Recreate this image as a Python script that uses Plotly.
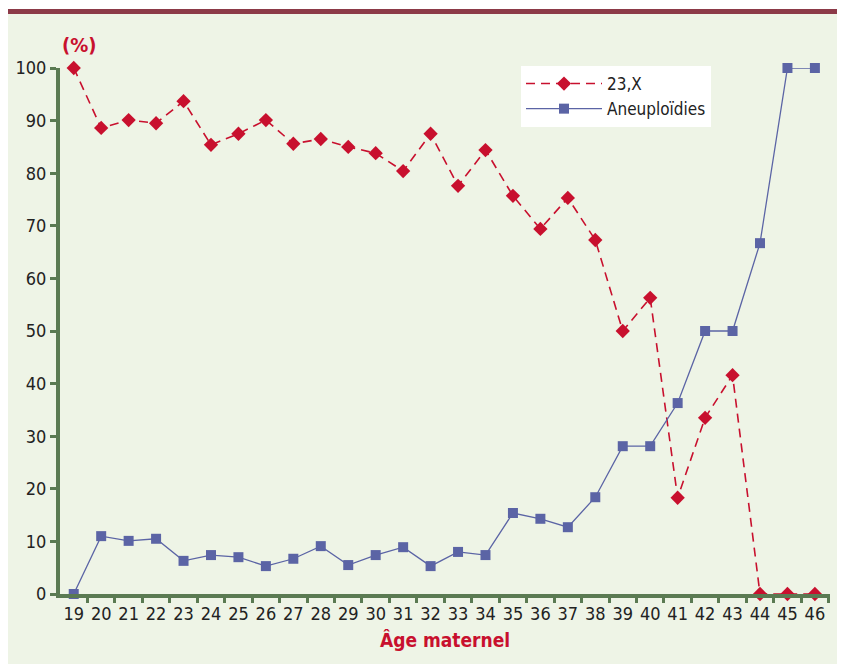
import plotly.graph_objects as go

ages = list(range(19, 47))
x23 = [100, 88.6, 90.1, 89.5, 93.7, 85.4, 87.5, 90.1, 85.6, 86.5, 85.0, 83.8, 80.4, 87.5,
       77.6, 84.4, 75.7, 69.4, 75.3, 67.3, 50.0, 56.3, 18.3, 33.5, 41.6, 0, 0, 0]
aneu = [0, 11.0, 10.1, 10.5, 6.3, 7.4, 7.0, 5.3, 6.7, 9.1, 5.5, 7.4, 8.9, 5.3,
        8.0, 7.4, 15.4, 14.3, 12.7, 18.4, 28.1, 28.1, 36.3, 50.0, 50.0, 66.7, 100, 100]
yticks = list(range(0, 101, 10))

W, H = 845, 664
OFF = 8  # page body margin
L, R, T, B = 60 - OFF, 830 - OFF, 68 - OFF, 594 - OFF

def px(x):
    return (x - OFF - L) / (R - L)

def py(y):
    return (B - (y - OFF)) / (B - T)

RED = "#c8102e"
BLUE = "#5b64a5"
AXC = "#5a7a52"
BG = "#eef4e6"
FONT = "Liberation Sans Narrow, DejaVu Sans Condensed, sans-serif"

fig = go.Figure()
fig.add_trace(go.Scatter(
    x=ages, y=x23, name="23,X", mode="lines+markers",
    line=dict(color=RED, width=1.6, dash="9px,6px"),
    marker=dict(symbol="diamond", size=11, color=RED),
    cliponaxis=False,
))
fig.add_trace(go.Scatter(
    x=ages, y=aneu, name="Aneuploïdies", mode="lines+markers",
    line=dict(color=BLUE, width=1.3),
    marker=dict(symbol="square", size=10, color=BLUE),
    cliponaxis=False,
))

fig.update_layout(
    width=W, height=H,
    margin=dict(l=L, r=W - R, t=T, b=H - B, pad=0, autoexpand=False),
    paper_bgcolor=BG,
    plot_bgcolor="rgba(0,0,0,0)",
    font=dict(family=FONT, size=18, color="#222222"),
    showlegend=True,
    legend=dict(
        x=px(521), y=py(66), xanchor="left", yanchor="top",
        bgcolor="white", font=dict(size=17, color="#222222", family=FONT),
        itemwidth=76, tracegroupgap=0,
    ),
    shapes=[
        dict(type="rect", xref="paper", yref="paper", layer="below",
             x0=px(0), x1=px(860), y0=py(9), y1=py(14),
             fillcolor="#8c3a48", line=dict(width=0)),
        dict(type="rect", xref="paper", yref="paper", layer="below",
             x0=px(0), x1=px(860), y0=py(0), y1=py(9),
             fillcolor="white", line=dict(width=0)),
    ],
    annotations=[
        dict(text="<b>(%)</b>", xref="paper", yref="paper", x=px(79), y=py(45),
             xanchor="center", yanchor="middle",
             showarrow=False, font=dict(size=20, color=RED, family=FONT)),
        dict(text="<b>Âge maternel</b>", xref="paper", yref="paper", x=px(445), y=py(640),
             xanchor="center", yanchor="middle",
             showarrow=False, font=dict(size=19, color=RED, family=FONT)),
    ],
)

fig.update_xaxes(
    range=[18.5, 46.55], tickmode="array", tickvals=ages, ticktext=[str(a) for a in ages],
    ticks="", showgrid=False, zeroline=False, automargin=False,
    showline=True, linecolor=AXC, linewidth=4,
    minor=dict(tickmode="array", tickvals=[a + 0.5 for a in ages], ticks="outside",
               ticklen=5, tickwidth=3, tickcolor=AXC),
    tickfont=dict(size=18, color="#222222", family=FONT),
)
fig.update_yaxes(
    range=[0, 100], tickmode="array", tickvals=yticks,
    ticks="outside", ticklen=6, tickwidth=3, tickcolor=AXC,
    showgrid=False, zeroline=False, automargin=False,
    showline=True, linecolor=AXC, linewidth=4,
    tickfont=dict(size=18, color="#222222", family=FONT),
)

fig.write_html("out.html")
